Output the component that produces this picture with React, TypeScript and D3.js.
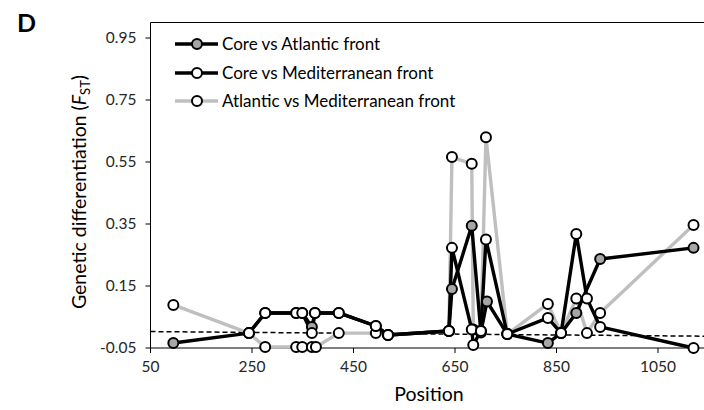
import React from 'react';
import * as d3 from 'd3';

type Pt = [number, number];

// positions (bp) and FST values
const coreAtlPos = [95, 244, 276, 337, 349, 368, 374, 421, 494, 518, 638, 644, 683, 701, 713, 753, 833, 859, 889, 936, 1120];
const coreAtlFst = [-0.034, -0.002, 0.063, 0.063, 0.063, 0.018, 0.063, 0.063, 0.021, -0.008, 0.005, 0.14, 0.344, 0.0, 0.10, -0.005, -0.034, -0.002, 0.063, 0.237, 0.273];

const coreMedPos = [244, 276, 337, 349, 368, 374, 421, 494, 518, 638, 644, 683, 686, 701, 711, 753, 833, 859, 889, 910, 936, 1120];
const coreMedFst = [-0.002, 0.063, 0.063, 0.063, -0.002, 0.063, 0.063, 0.021, -0.008, 0.005, 0.273, 0.01, -0.04, 0.005, 0.30, -0.005, 0.047, -0.002, 0.318, 0.11, 0.018, -0.05];

const atlMedPos = [95, 244, 276, 337, 349, 368, 376, 421, 494, 518, 638, 644, 683, 686, 701, 711, 753, 833, 859, 889, 910, 936, 1120];
const atlMedFst = [0.089, -0.002, -0.047, -0.047, -0.047, -0.047, -0.047, -0.002, -0.002, -0.008, 0.005, 0.566, 0.544, 0.01, 0.005, 0.63, -0.005, 0.092, -0.002, 0.11, -0.002, 0.063, 0.347];

// dashed reference line (start / end)
const refPos = [50, 1150];
const refFst = [0.003, -0.012];

const xTickValues = [50, 250, 450, 650, 850, 1050];
const yTickValues = [-0.05, 0.15, 0.35, 0.55, 0.75, 0.95];
const seriesNames = ['Core vs Atlantic front', 'Core vs Mediterranean front', 'Atlantic vs Mediterranean front'];

const width = 704;
const height = 410;
const marginLeft = 150.5;
const marginTop = 22.5;
const plotBottom = 348;
const font = 'Lato, "Open Sans", sans-serif';

const xScale = d3.scaleLinear().domain([50, 1150]).range([marginLeft, marginLeft + 1100 * 0.5075]);
const yScale = d3.scaleLinear().domain([-0.05, 1.0]).range([plotBottom, marginTop]);

const zip = (xs: number[], ys: number[]): Pt[] => xs.map((x, i) => [x, ys[i]] as Pt);

const series = [
  {name: seriesNames[0], data: zip(coreAtlPos, coreAtlFst), stroke: '#000', fill: '#a6a6a6'},
  {name: seriesNames[1], data: zip(coreMedPos, coreMedFst), stroke: '#000', fill: '#fff'},
  {name: seriesNames[2], data: zip(atlMedPos, atlMedFst), stroke: '#bfbfbf', fill: '#fff'},
];

const line = d3.line<Pt>().x(d => xScale(d[0])).y(d => yScale(d[1]));

const App = () => {
  const drawOrder = [2, 0, 1];
  return (
    <svg width={width} height={height} style={{position: 'absolute', left: 0, top: 0, background: '#fff'}} fontFamily={font}>
      <text x={17} y={32} fontSize={25} fontWeight="bold" fill="#000">D</text>

      {/* frame */}
      <line x1={marginLeft} x2={width} y1={marginTop} y2={marginTop} stroke="#000" strokeWidth={1}/>
      <Axes/>

      <path d={line(zip(refPos, refFst)) || ''} stroke="#000" strokeWidth={1.5} strokeDasharray="5 3" fill="none"/>

      {drawOrder.map(i => (
        <path key={'l' + i} d={line(series[i].data) || ''} stroke={series[i].stroke} strokeWidth={3.4} fill="none" strokeLinejoin="round"/>
      ))}
      {drawOrder.map(i => (
        <g key={'m' + i}>
          {series[i].data.map((d, j) => (
            <circle key={j} cx={xScale(d[0])} cy={yScale(d[1])} r={5} fill={series[i].fill} stroke="#000" strokeWidth={2}/>
          ))}
        </g>
      ))}

      <Legend/>
      <Labels/>
    </svg>
  );
};

const Axes = () => {
  const labelColor = '#262626';
  return (
    <>
      <line x1={marginLeft} x2={width} y1={plotBottom} y2={plotBottom} stroke="#000"/>
      {xTickValues.map(v => (
        <g key={v} transform={`translate(${xScale(v)}, ${plotBottom})`}>
          <line y2={5} stroke="#000"/>
          <text y={24} textAnchor="middle" fontSize={15.5} fill={labelColor}>{v}</text>
        </g>
      ))}
      <line x1={marginLeft} x2={marginLeft} y1={marginTop} y2={plotBottom} stroke="#000"/>
      {yTickValues.map(v => (
        <g key={v} transform={`translate(${marginLeft}, ${yScale(v)})`}>
          <line x2={-5} stroke="#000"/>
          <text x={-14} dy="0.35em" textAnchor="end" fontSize={15.5} fill={labelColor}>{v.toFixed(2)}</text>
        </g>
      ))}
    </>
  );
};

const Legend = () => {
  const rowY = [44, 73, 101];
  return (
    <>
      {series.map((s, i) => (
        <g key={s.name} transform={`translate(175, ${rowY[i]})`}>
          <line x1={0} x2={43} stroke={s.stroke} strokeWidth={3.4}/>
          <circle cx={22} r={5} fill={s.fill} stroke="#000" strokeWidth={2}/>
          <text x={47} dy="0.35em" fontSize={17} fill="#000">{s.name}</text>
        </g>
      ))}
    </>
  );
};

const Labels = () => (
  <>
    <text transform={`translate(86, 192) rotate(-90)`} textAnchor="middle" fontSize={19.5} fill="#000">
      Genetic differentiation (<tspan fontStyle="italic">F</tspan><tspan fontSize={13} dy={4}>ST</tspan><tspan dy={-4}>)</tspan>
    </text>
    <text x={429} y={401} textAnchor="middle" fontSize={19.5} fill="#000">Position</text>
  </>
);

export default App;
